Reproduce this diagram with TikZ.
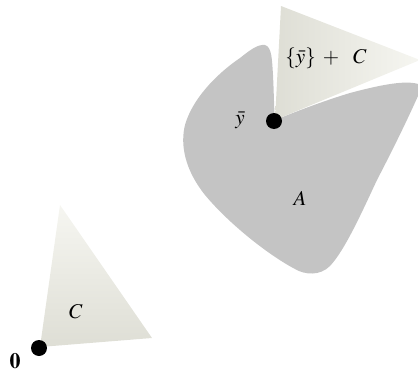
\documentclass[tikz,border=0pt]{standalone}
\usepackage{mathptmx}
\usetikzlibrary{calc}
\definecolor{setA}{RGB}{196,196,196}
\definecolor{coneLight}{RGB}{246,246,241}
\definecolor{coneDark}{RGB}{222,222,213}
\tikzset{
  setshape/.style={fill=setA, draw=none},
  cone/.style={draw=none},
  dotmark/.style={circle, fill=black, inner sep=0pt, minimum size=16pt},
  lbl/.style={inner sep=0pt, font=\fontsize{21}{24}\selectfont}
}
\begin{document}
\begin{tikzpicture}[x=1pt,y=-1pt]
\useasboundingbox (0,0) rectangle (418,372);
% set A
\fill[setshape] (265,45)
  .. controls (272,47) and (272,60) .. (273,75)
  .. controls (274,95) and (274,110) .. (275,120)
  .. controls (290,114) and (320,102) .. (350,93)
  .. controls (380,85) and (405,80) .. (418,84)
  -- (418,96)
  .. controls (405,125) and (390,155) .. (377,180)
  .. controls (362,212) and (345,250) .. (330,266)
  .. controls (320,276) and (305,275) .. (295,269)
  .. controls (270,256) and (230,225) .. (205,195)
  .. controls (185,170) and (180,145) .. (185,125)
  .. controls (192,100) and (215,75) .. (240,58)
  .. controls (250,50) and (258,44) .. (265,45) -- cycle;
% translated cone
\shade[cone, left color=coneDark, right color=coneLight] (275,120) -- (281,6) -- (420,60) -- cycle;
% cone C
\shade[cone, top color=coneLight, bottom color=coneDark] (40,347) -- (60,205) -- (152,338) -- cycle;
% dots
\node[dotmark] (zero) at (39,348) {};
\node[dotmark] (ybar) at (274,121) {};
% labels
\node[lbl, font=\fontsize{22}{24}\selectfont] (zerolbl) at (15,361) {$\mathbf{0}$};
\node[lbl] (clbl) at (76,312) {$C$};
\node[lbl] (ybarlbl) at (240,120) {$\bar{y}$};
\node[lbl] (albl) at (300,198) {$A$};
\node[lbl] (conelbl) at (326,58) {$\{\bar{y}\}\mskip6mu{+}\mskip12mu C$};
\end{tikzpicture}
\end{document}
